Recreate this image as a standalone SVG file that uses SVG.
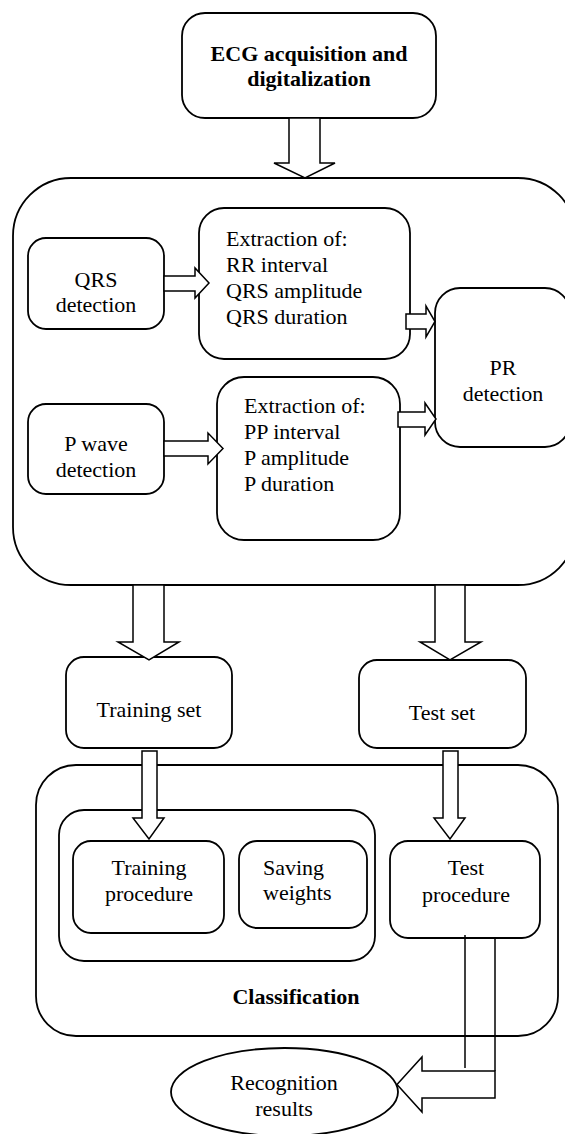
<svg xmlns="http://www.w3.org/2000/svg" width="565" height="1134" viewBox="0 0 565 1134" font-family="'Liberation Serif', 'Times New Roman', 'DejaVu Serif', serif">
<style>
.box{fill:#fff;stroke:#000;stroke-width:1.8}
.arr{fill:#fff;stroke:#000;stroke-width:1.5;stroke-linejoin:miter}
.ln{fill:none;stroke:#000;stroke-width:1.5}
text{font-family:'Liberation Serif','Times New Roman','DejaVu Serif',serif;font-size:22px;fill:#000}
.c{text-anchor:middle}
.b{font-weight:bold}
</style>
<rect width="565" height="1134" fill="#fff"/>
<g id="ecg">
<rect class="box" x="182" y="13" width="254" height="105" rx="23"/>
<text class="c b" x="309" y="61">ECG acquisition and</text>
<text class="c b" x="309" y="86">digitalization</text>
</g>
<g id="feature-extraction">
<rect class="box" x="13" y="178" width="563" height="407" rx="58"/>
</g>
<g id="qrs-detection">
<rect class="box" x="28" y="238" width="136" height="91" rx="18"/>
<text class="c" x="96" y="287">QRS</text>
<text class="c" x="96" y="312">detection</text>
</g>
<g id="extraction-qrs">
<rect class="box" x="199" y="208" width="211" height="151" rx="25"/>
<text x="226" y="246">Extraction of:</text>
<text x="226" y="272">RR interval</text>
<text x="226" y="298">QRS amplitude</text>
<text x="226" y="324">QRS duration</text>
</g>
<g id="p-wave-detection">
<rect class="box" x="28" y="404" width="136" height="90" rx="18"/>
<text class="c" x="96" y="451">P wave</text>
<text class="c" x="96" y="477">detection</text>
</g>
<g id="extraction-p">
<rect class="box" x="217" y="377" width="183" height="163" rx="27"/>
<text x="244" y="413">Extraction of:</text>
<text x="244" y="439">PP interval</text>
<text x="244" y="465">P amplitude</text>
<text x="244" y="491">P duration</text>
</g>
<g id="pr-detection">
<rect class="box" x="435" y="288" width="135" height="159" rx="25"/>
<text class="c" x="503" y="375">PR</text>
<text class="c" x="503" y="401">detection</text>
</g>
<g id="training-set">
<rect class="box" x="66" y="657" width="166" height="91" rx="18"/>
<text class="c" x="149" y="717">Training set</text>
</g>
<g id="test-set">
<rect class="box" x="359" y="660" width="167" height="88" rx="18"/>
<text class="c" x="442" y="720">Test set</text>
</g>
<g id="classification">
<rect class="box" x="36" y="765" width="522" height="271" rx="40"/>
<text class="c b" x="296" y="1004">Classification</text>
</g>
<g id="training-group">
<rect class="box" x="59" y="810" width="316" height="151" rx="25"/>
</g>
<g id="training-procedure">
<rect class="box" x="73" y="841" width="151" height="92" rx="18"/>
<text class="c" x="149" y="875">Training</text>
<text class="c" x="149" y="901">procedure</text>
</g>
<g id="saving-weights">
<rect class="box" x="239" y="841" width="128" height="87" rx="18"/>
<text x="263" y="875">Saving</text>
<text x="263" y="900">weights</text>
</g>
<g id="test-procedure">
<rect class="box" x="390" y="841" width="150" height="97" rx="18"/>
<text class="c" x="466" y="875">Test</text>
<text class="c" x="466" y="902">procedure</text>
</g>
<g id="recognition-results">
<ellipse class="box" cx="284.5" cy="1092" rx="113.5" ry="44"/>
<text class="c" x="284" y="1090">Recognition</text>
<text class="c" x="284" y="1116">results</text>
</g>
<g id="connectors">
<path class="arr" d="M289,118 L320,118 L320,163 L335,163 L305,178 L274,163 L289,163 Z"/>
<path class="arr" d="M164,276 L195,276 L195,268 L209,283 L195,298 L195,291 L164,291 Z"/>
<path class="arr" d="M164,441 L208,441 L208,433 L223,448.5 L208,464 L208,456 L164,456 Z"/>
<path class="arr" d="M406,314 L426,314 L426,306 L435,321.5 L426,337 L426,329 L406,329 Z"/>
<path class="arr" d="M398,412 L425,412 L425,403 L436,419 L425,435 L425,427 L398,427 Z"/>
<path class="arr" d="M133,585 L164,585 L164,642 L179,642 L149,660 L118,642 L133,642 Z"/>
<path class="arr" d="M435,585 L465,585 L465,642 L481,642 L450,660 L420,642 L435,642 Z"/>
<path class="arr" d="M142,751 L157,751 L157,818 L164,818 L149,839 L133,818 L142,818 Z"/>
<path class="arr" d="M443,751 L458,751 L458,818 L465,818 L450,839 L434,818 L443,818 Z"/>
<path class="arr" d="M495,1071 L422,1071 L422,1057 L397,1084.5 L422,1112 L422,1098 L495,1098 Z"/>
<path class="ln" d="M465,935 L465,1068"/>
<path class="ln" d="M495,938 L495,1071"/>
</g>
</svg>
